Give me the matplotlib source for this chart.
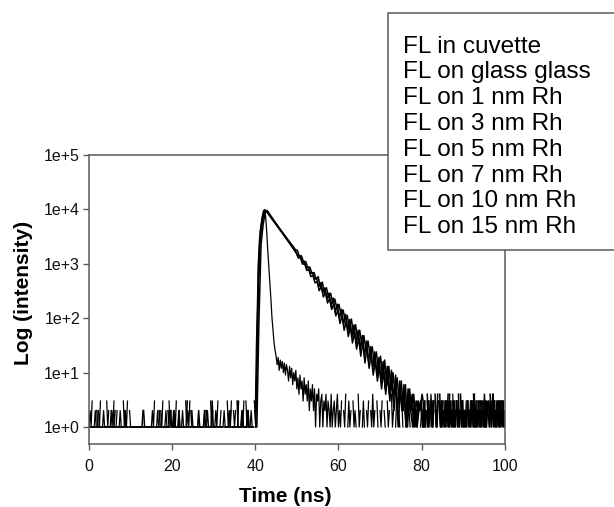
import numpy as np
import matplotlib
matplotlib.use("Agg")
import matplotlib.pyplot as plt
from matplotlib import ticker
from matplotlib.lines import Line2D
from matplotlib.patches import Rectangle

plt.rcParams['font.family'] = ['Liberation Sans', 'DejaVu Sans']

# legend entries (the legend in the original has no line samples)
labels = ["FL in cuvette", "FL on glass glass", "FL on 1 nm Rh", "FL on 3 nm Rh",
          "FL on 5 nm Rh", "FL on 7 nm Rh", "FL on 10 nm Rh", "FL on 15 nm Rh"]

fine = 0.25    # ns per channel for background parts (one digit per channel)
coarse = 0.5   # ns per channel for the slow decays

# fast (quenched) trace: background 0-40 ns, decay 40-60 ns, background 60-100 ns
fast_pre = ("1213012102" "1301210312" "0121301201" "2103121302"
            "1101101101" "1011011011" "1213012102" "1301210312"
            "0121301201" "2103121302" "1101011011" "1201210312"
            "0121301201" "2103121302" "1201301213" "0312012103")
fast_decay = [2, 30, 180, 1200, 2900, 4500, 6200, 8000, 9600, 9400,
              7200, 3800, 1750, 900, 480, 230, 105, 60, 36, 26,
              20,
              14, 19, 11, 17, 12, 16, 10, 15, 9, 14,
              11, 7, 13, 8, 12, 6, 10, 7, 11, 5,
              8, 4, 9, 5, 7, 3, 8, 4, 6, 3,
              7, 2, 5, 3, 6, 2, 5, 1, 4, 3,
              5, 1, 3, 4, 1, 3, 2, 4, 1, 3,
              2, 1, 4, 1, 2, 3, 1, 2, 4, 1]
fast_post = ("2130214013" "1203121041" "2013102130" "2141203102"
             "1302103120" "4120130210" "3102130210" "3120213012"
             "2031203142" "1302130213" "0213021304" "1203120312"
             "2130213021" "4012031203" "1302130241" "2031302130")

# slow traces: background 0-40 ns, decay 40-80 ns, background 80-100 ns
a_pre = ("1101110211" "0111011011" "1201101110" "1110211011"
         "0110111011" "1021101101" "1101110211" "0111011021"
         "1211012101" "1101301101" "0110121101" "1201110131"
         "1101011010" "0111012011" "1031101211" "0121101102")
a_decay = [1, 120, 2500, 5500, 9000, 9540, 8480, 7540, 6700, 5960,
           5300, 4700, 4200, 3710, 3320, 2930, 2630, 2320, 2080, 1830,
           1760, 1340, 1400, 1060, 1100, 835, 870, 660, 690, 520,
           580, 380, 460, 300, 362, 238, 287, 188, 226, 149,
           180, 117, 142, 92, 112, 65, 96, 51, 76, 40,
           60, 32, 48, 25, 38, 20, 30, 15, 24, 11,
           20, 8, 17, 6, 13, 5, 10, 4, 8, 3,
           7, 2, 6, 1, 5, 2, 4, 1, 3, 2,
           4]
a_post = ("3120412031" "3021402131" "2031402130" "2130412031"
          "1203120314" "2130213021" "3120231402" "1302130212")

b_pre = ("0110101101" "1010011010" "1101201001" "0110110101"
         "1011010110" "1201101011" "0100110110" "1011021010"
         "1001101101" "0110110210" "1101011001" "0120110101"
         "1011001101" "0110201101" "1101101001" "1021011010")
b_decay = [4, 900, 4000, 7300, 9900, 8975, 7960, 7060, 6260, 5550,
           4920, 4360, 3870, 3430, 3040, 2700, 2390, 2120, 1880, 1670,
           1370, 1420, 1070, 1120, 840, 880, 660, 690, 520, 545,
           380, 450, 290, 360, 225, 290, 165, 235, 128, 180,
           100, 145, 76, 118, 58, 95, 45, 75, 34, 60,
           27, 48, 20, 38, 16, 30, 12, 24, 9, 19,
           7, 16, 5, 13, 4, 11, 3, 9, 2, 7,
           2, 6, 1, 5, 2, 4, 1, 3, 2, 3,
           1]
b_post = ("1302130213" "0412031302" "1302140213" "1203120312"
          "2130213041" "0213021302" "1320412031" "2031203120")

c_pre = ("1011110111" "1101110111" "0111101111" "1110111011"
         "1101111011" "1110111101" "1011110111" "1101111011"
         "1110111101" "1011011011" "0111101101" "1101110111"
         "1011011101" "1110110111" "1101111011" "0111011101")
c_decay = [1, 90, 2200, 5200, 8700, 9500, 8350, 7340, 6450, 5670,
           4990, 4380, 3850, 3390, 2980, 2610, 2300, 2025, 1775, 1565,
           1270, 1300, 980, 1010, 755, 780, 580, 605, 445, 470,
           320, 385, 245, 300, 190, 230, 145, 180, 110, 140,
           80, 112, 60, 88, 46, 70, 35, 55, 27, 43,
           20, 37, 15, 28, 12, 22, 9, 17, 7, 13,
           5, 11, 4, 9, 3, 7, 2, 6, 1, 5,
           2, 4, 1, 3, 2, 1, 3, 1, 2, 3,
           1]
c_post = ("2103120312" "0213041203" "1203120213" "0312041302"
          "2130213021" "3021302141" "2031302130" "1203130213")


def make_trace(pre, decay, post, t0, decay_step):
    pre_c = [int(ch) for ch in pre]
    post_c = [int(ch) for ch in post]
    t_pre = t0 + fine * np.arange(len(pre_c))
    t_dec = t0 + 40 + decay_step * np.arange(len(decay))
    t_post = t_dec[-1] + fine * (1 + np.arange(len(post_c)))
    t = np.concatenate([t_pre, t_dec, t_post])
    counts = np.array(pre_c + decay + post_c, dtype=float)
    counts[counts <= 0] = np.nan   # empty channels are not drawn on log axis
    return t, counts


# the four records are not sampled on the same channel boundaries
traces = [
    make_trace(c_pre, c_decay, c_post, 0.375, coarse),
    make_trace(b_pre, b_decay, b_post, 0.25, coarse),
    make_trace(a_pre, a_decay, a_post, 0.125, coarse),
    make_trace(fast_pre, fast_decay, fast_post, 0.0, fine),
]
widths = [1.1, 1.1, 1.1, 0.9]

fig = plt.figure(figsize=(6.14, 5.07), dpi=100)
ax = fig.add_axes([0.145, 0.1243, 0.677, 0.570])

for (t, c), w in zip(traces, widths):
    ax.plot(t, c, color='black', lw=w)

ax.set_yscale('log')
ax.set_xlim(0, 100)
ax.set_ylim(0.487, 1e5)
ax.set_xticks([0, 20, 40, 60, 80, 100])
ax.set_yticks([1, 10, 100, 1e3, 1e4, 1e5])
ax.yaxis.set_minor_locator(ticker.NullLocator())
ax.yaxis.set_major_formatter(ticker.FuncFormatter(
    lambda v, p: "1e+%d" % int(round(np.log10(v)))))

spine_col = '#5a5a5a'
for s in ax.spines.values():
    s.set_color(spine_col)
    s.set_linewidth(1.1)
ax.tick_params(direction='out', length=4.5, width=1.0, color=spine_col,
               labelsize=11.5, labelcolor='#111111')
ax.tick_params(axis='x', pad=6)
ax.tick_params(axis='y', pad=2)

ax.set_xlabel("Time (ns)", fontsize=15, fontweight='bold')
ax.set_ylabel("Log (intensity)", fontsize=15, fontweight='bold')
ax.xaxis.set_label_coords(0.471, -0.149)
ax.yaxis.set_label_coords(-0.135, 0.522)

# legend box, partly outside the figure on the right
box = Rectangle((0.632, 0.507), 0.40, 0.4675, transform=fig.transFigure,
                facecolor='white', edgecolor=spine_col, lw=1.1, zorder=5)
fig.add_artist(box)

handles = [Line2D([], [], linestyle='none') for _ in labels]
leg = fig.legend(handles, labels, loc='upper left', bbox_to_anchor=(0.656, 0.930),
                 frameon=False, fontsize=17.5, handlelength=0, handletextpad=0,
                 borderpad=0, borderaxespad=0, labelspacing=0.156)
leg.set_zorder(6)

fig.savefig("out.png", dpi=100)
